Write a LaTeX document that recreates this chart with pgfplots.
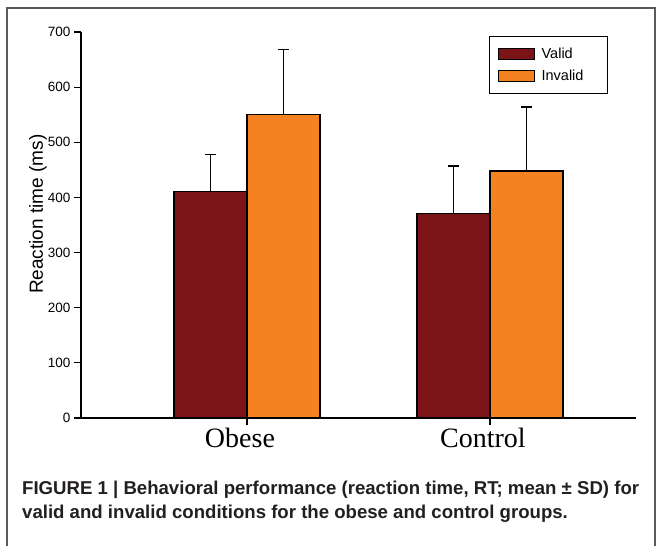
\documentclass[border=0pt]{standalone}
\usepackage{pgfplots}
\pgfplotsset{compat=1.18}
\usepackage{fontspec}
\setmainfont{Liberation Sans}
\newfontfamily\seriffont{Liberation Serif}
\definecolor{validc}{RGB}{123,20,22}
\definecolor{invalidc}{RGB}{245,130,32}
\definecolor{framec}{RGB}{90,90,90}
\definecolor{captc}{RGB}{35,31,32}
\begin{document}
\begin{tikzpicture}[x=1pt,y=1pt]
\useasboundingbox (0,0) rectangle (657,546);
\draw[framec, line width=1.3pt] (7,0) -- (7,538) -- (655,538) -- (655,0);
\begin{axis}[
  at={(81pt,128pt)}, anchor=south west,
  scale only axis, width=555pt, height=386pt,
  xmin=-0.683, xmax=1.601, ymin=0, ymax=700,
  axis x line*=bottom, axis y line*=left,
  axis line style={line width=1.3pt, -},
  ybar=0pt, bar width=73pt,
  xtick={0,1}, xticklabels={Obese,Control},
  ytick={0,100,...,700},
  tick align=outside, major tick length=7pt,
  tick style={line width=1.2pt, black},
  x tick label style={font=\seriffont\fontsize{28}{28}\selectfont, xshift=-7pt},
  y tick label style={font=\fontsize{13.5}{15}\selectfont},
  /pgf/number format/assume math mode=true,
  ylabel={Reaction time (ms)},
  ylabel style={font=\fontsize{19}{22}\selectfont, at={(axis description cs:-0.0775,0.528)}, anchor=center},
  legend style={at={(axis description cs:0.735,0.990)}, anchor=north west, draw=black, line width=1.2pt,
    font=\fontsize{14.5}{17}\selectfont, inner xsep=8pt, inner ysep=9.5pt, row sep=6pt, cells={anchor=west},
    /tikz/every odd column/.append style={column sep=5pt}},
  legend image code/.code={\draw[#1, line width=1.1pt] (0pt,-5.5pt) rectangle (36pt,5.5pt);},
]
\addplot[fill=validc, draw=black, line width=1.2pt,
  error bars/.cd, y dir=plus, y explicit,
  error bar style={line width=1.2pt, black},
  error mark options={rotate=90, mark size=5.5pt, line width=1.2pt, black}]
  coordinates {(0,411) +- (0,67) (1,371) +- (0,86)};
\addlegendentry{\makebox[56pt][l]{Valid}}
\addplot[fill=invalidc, draw=black, line width=1.2pt,
  error bars/.cd, y dir=plus, y explicit,
  error bar style={line width=1.2pt, black},
  error mark options={rotate=90, mark size=5.5pt, line width=1.2pt, black}]
  coordinates {(0,551) +- (0,117) (1,448) +- (0,116)};
\addlegendentry{\makebox[56pt][l]{Invalid}}
\end{axis}
\node[anchor=base west, inner sep=0, text=captc, font=\bfseries\fontsize{18.6}{24}\selectfont] at (22,51) {FIGURE 1 | Behavioral performance (reaction time, RT; mean ± SD) for};
\node[anchor=base west, inner sep=0, text=captc, font=\bfseries\fontsize{18.6}{24}\selectfont] at (22,27) {valid and invalid conditions for the obese and control groups.};
\end{tikzpicture}
\end{document}
